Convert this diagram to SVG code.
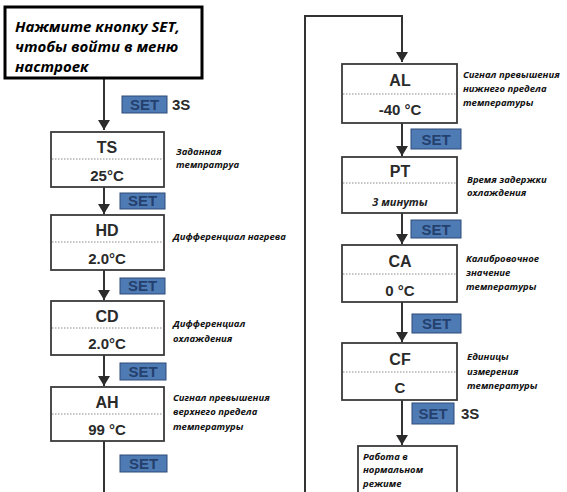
<svg xmlns="http://www.w3.org/2000/svg" width="567" height="492" viewBox="0 0 567 492">
<defs>
<marker id="ah" markerWidth="12" markerHeight="12" refX="10" refY="6" orient="auto" markerUnits="userSpaceOnUse">
<path d="M0,0 L10,6 L0,12 z" fill="#2b2b2b"/>
</marker>
<style>
.box{fill:#fff;stroke:#3a3a3a;stroke-width:1.8}
.sep{stroke:#8a8a8a;stroke-width:1;stroke-dasharray:1.5 1.5}
.conn{fill:none;stroke:#333;stroke-width:2}
.ttl{font-family:"Liberation Sans",Arial,sans-serif;font-weight:bold;font-size:16px;fill:#2a2a2a;text-anchor:middle}
.val{font-family:"Liberation Sans",Arial,sans-serif;font-weight:bold;font-size:15px;fill:#2a2a2a;text-anchor:middle}
.lbl{font-family:"Open Sans","Noto Sans",sans-serif;font-weight:bold;font-style:italic;font-size:9.5px;fill:#111}
.set rect{fill:#4f7bb5;stroke:#2e4a78;stroke-width:1}
.set text{font-family:"Liberation Sans",Arial,sans-serif;font-weight:bold;font-size:15px;fill:#24406d;text-anchor:middle}
.s3{font-family:"Liberation Sans",Arial,sans-serif;font-weight:bold;font-size:15px;fill:#2a2a2a}
.top{font-family:"Open Sans","Noto Sans",sans-serif;font-weight:bold;font-style:italic;font-size:15px;fill:#000}
</style>
</defs>
<rect width="567" height="492" fill="#fff"/>

<g id="connectors">
<line class="conn" x1="104" y1="79" x2="104" y2="130" marker-end="url(#ah)"/>
<line class="conn" x1="104" y1="187" x2="104" y2="214" marker-end="url(#ah)"/>
<line class="conn" x1="104" y1="270" x2="104" y2="300" marker-end="url(#ah)"/>
<line class="conn" x1="104" y1="355" x2="104" y2="386" marker-end="url(#ah)"/>
<polyline class="conn" points="104,441 104,494"/>
<polyline class="conn" points="305,494 305,16 402,16 402,62" marker-end="url(#ah)"/>
<line class="conn" x1="402" y1="123" x2="402" y2="156" marker-end="url(#ah)"/>
<line class="conn" x1="402" y1="213" x2="402" y2="244" marker-end="url(#ah)"/>
<line class="conn" x1="402" y1="302" x2="402" y2="342" marker-end="url(#ah)"/>
<line class="conn" x1="402" y1="400" x2="402" y2="445" marker-end="url(#ah)"/>
</g>

<g id="start">
<rect x="5" y="7" width="197" height="71" fill="#fff" stroke="#000" stroke-width="3"/>
<text class="top" x="15" y="32">Нажмите кнопку SET,</text>
<text class="top" x="15" y="52">чтобы войти в меню</text>
<text class="top" x="15" y="72">настроек</text>
</g>

<g id="set1" class="set"><rect x="122" y="96" width="45" height="17"/><text x="144.5" y="110">SET</text></g>
<text class="s3" x="172" y="110">3S</text>

<g id="ts">
<rect class="box" x="51" y="132" width="113" height="55"/>
<line class="sep" x1="52" y1="159" x2="163" y2="159"/>
<text class="ttl" x="107" y="153">TS</text>
<text class="val" x="107" y="181">25°C</text>
<text class="lbl" x="176" y="155">Заданная</text>
<text class="lbl" x="176" y="168">темпратруа</text>
</g>

<g id="set2" class="set"><rect x="120" y="193" width="45" height="16"/><text x="142.5" y="206">SET</text></g>

<g id="hd">
<rect class="box" x="51" y="215" width="113" height="55"/>
<line class="sep" x1="52" y1="242" x2="163" y2="242"/>
<text class="ttl" x="107" y="236">HD</text>
<text class="val" x="107" y="264">2.0°C</text>
<text class="lbl" x="173" y="240">Дифференциал нагрева</text>
</g>

<g id="set3" class="set"><rect x="120" y="278" width="45" height="16"/><text x="142.5" y="291">SET</text></g>

<g id="cd">
<rect class="box" x="51" y="301" width="113" height="54"/>
<line class="sep" x1="52" y1="328" x2="163" y2="328"/>
<text class="ttl" x="107" y="322">CD</text>
<text class="val" x="107" y="349">2.0°C</text>
<text class="lbl" x="173" y="327">Дифференциал</text>
<text class="lbl" x="173" y="342">охлаждения</text>
</g>

<g id="set4" class="set"><rect x="120" y="363" width="46" height="17"/><text x="143" y="377">SET</text></g>

<g id="ah">
<rect class="box" x="51" y="387" width="113" height="54"/>
<line class="sep" x1="52" y1="414" x2="163" y2="414"/>
<text class="ttl" x="107" y="408">AH</text>
<text class="val" x="107" y="435">99 °C</text>
<text class="lbl" x="173" y="401">Сигнал превышения</text>
<text class="lbl" x="173" y="415">верхнего предела</text>
<text class="lbl" x="173" y="430">температуры</text>
</g>

<g id="set5" class="set"><rect x="120" y="455" width="47" height="17"/><text x="143.5" y="469">SET</text></g>

<g id="al">
<rect class="box" x="342" y="64" width="115" height="59"/>
<line class="sep" x1="343" y1="94" x2="456" y2="94"/>
<text class="ttl" x="400" y="86">AL</text>
<text class="val" x="400" y="115">-40 °C</text>
<text class="lbl" x="463" y="78">Сигнал превышения</text>
<text class="lbl" x="463" y="92">нижнего предела</text>
<text class="lbl" x="463" y="106">температуры</text>
</g>

<g id="set6" class="set"><rect x="411" y="129" width="50" height="20"/><text x="436" y="144.5">SET</text></g>

<g id="pt">
<rect class="box" x="342" y="157" width="115" height="56"/>
<line class="sep" x1="343" y1="183" x2="456" y2="183"/>
<text class="ttl" x="400" y="177">PT</text>
<text class="lbl" x="400" y="206" style="font-size:11px;text-anchor:middle;fill:#222">3 минуты</text>
<text class="lbl" x="467" y="183">Время задержки</text>
<text class="lbl" x="467" y="196">охлаждения</text>
</g>

<g id="set7" class="set"><rect x="411" y="220" width="50" height="18"/><text x="436" y="234.5">SET</text></g>

<g id="ca">
<rect class="box" x="342" y="245" width="115" height="57"/>
<line class="sep" x1="343" y1="274" x2="456" y2="274"/>
<text class="ttl" x="400" y="267">CA</text>
<text class="val" x="400" y="296">0 °C</text>
<text class="lbl" x="466" y="262">Калибровочное</text>
<text class="lbl" x="466" y="276">значение</text>
<text class="lbl" x="466" y="290">температуры</text>
</g>

<g id="set8" class="set"><rect x="412" y="314" width="49" height="19"/><text x="436.5" y="329">SET</text></g>

<g id="cf">
<rect class="box" x="342" y="343" width="115" height="57"/>
<line class="sep" x1="343" y1="372" x2="456" y2="372"/>
<text class="ttl" x="400" y="365">CF</text>
<text class="val" x="400" y="393">C</text>
<text class="lbl" x="467" y="360">Единицы</text>
<text class="lbl" x="467" y="375">измерения</text>
<text class="lbl" x="467" y="389">температуры</text>
</g>

<g id="set9" class="set"><rect x="412" y="403" width="42" height="21"/><text x="433" y="419">SET</text></g>
<text class="s3" x="461" y="419">3S</text>

<g id="normal">
<rect class="box" x="358" y="446" width="99" height="52"/>
<text class="lbl" x="363" y="460">Работа в</text>
<text class="lbl" x="363" y="473">нормальном</text>
<text class="lbl" x="363" y="487">режиме</text>
</g>
</svg>
